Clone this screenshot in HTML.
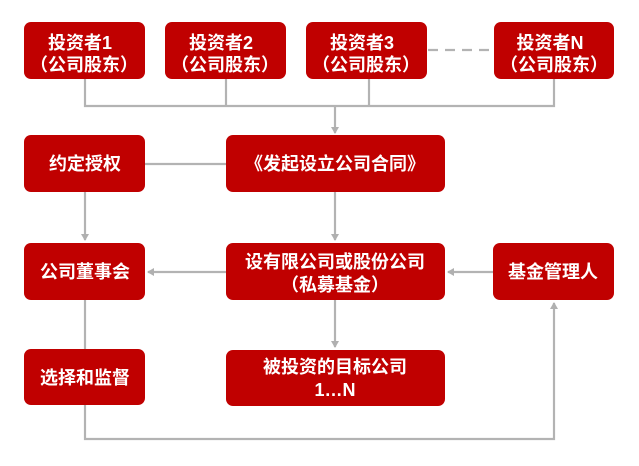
<!DOCTYPE html>
<html><head><meta charset="utf-8"><style>
html,body{margin:0;padding:0;background:#fff;}
svg{display:block}
text{font-family:"Liberation Sans","Noto Sans CJK SC",sans-serif;font-size:18px;fill:#fff;text-anchor:middle;font-weight:bold}
</style></head><body>
<svg width="639" height="466" viewBox="0 0 639 466" xmlns="http://www.w3.org/2000/svg">
<defs><marker id="a" markerWidth="8" markerHeight="8" refX="6" refY="4" orient="auto" markerUnits="userSpaceOnUse"><path d="M0,0 L7,4 L0,8 z" fill="#b0b0b0"/></marker></defs>
<g stroke="#b3b3b3" stroke-width="2.2" fill="none">
<path d="M85 79 V106 H554 V79 M226 79 V106 M369 79 V106"/>
<path d="M335 106 V133" marker-end="url(#a)"/>
<path d="M145 164 H226"/>
<path d="M85 192 V240" marker-end="url(#a)"/>
<path d="M335 192 V240" marker-end="url(#a)"/>
<path d="M226 272 H148" marker-end="url(#a)"/>
<path d="M493 272 H448" marker-end="url(#a)"/>
<path d="M335 300 V347" marker-end="url(#a)"/>
<path d="M85 300 V349"/>
<path d="M85 405 V439 H554 V303" marker-end="url(#a)"/>
<path d="M428 50 H493" stroke-dasharray="10 7"/>
</g>
<g fill="#c00000">
<rect x="24" y="22" width="121" height="57" rx="7"/>
<rect x="165" y="22" width="121" height="57" rx="7"/>
<rect x="306" y="22" width="121" height="57" rx="7"/>
<rect x="494" y="22" width="120" height="57" rx="7"/>
<rect x="24" y="135" width="121" height="57" rx="7"/>
<rect x="226" y="135" width="219" height="57" rx="7"/>
<rect x="24" y="243" width="121" height="57" rx="7"/>
<rect x="226" y="243" width="219" height="57" rx="7"/>
<rect x="493" y="243" width="121" height="57" rx="7"/>
<rect x="24" y="349" width="121" height="56" rx="7"/>
<rect x="226" y="350" width="219" height="56" rx="7"/>
</g>
<text x="80" y="49">投资者1</text><text x="84" y="71">（公司股东）</text>
<text x="221" y="49">投资者2</text><text x="225" y="71">（公司股东）</text>
<text x="362" y="49">投资者3</text><text x="366" y="71">（公司股东）</text>
<text x="550" y="49">投资者N</text><text x="554" y="71">（公司股东）</text>
<text x="85" y="170">约定授权</text>
<text x="335" y="170">《发起设立公司合同》</text>
<text x="85" y="278">公司董事会</text>
<text x="335" y="268">设有限公司或股份公司</text><text x="335" y="291">（私募基金）</text>
<text x="553" y="278">基金管理人</text>
<text x="85" y="384">选择和监督</text>
<text x="335" y="373">被投资的目标公司</text><text x="335" y="396">1…N</text>
</svg>
</body></html>
